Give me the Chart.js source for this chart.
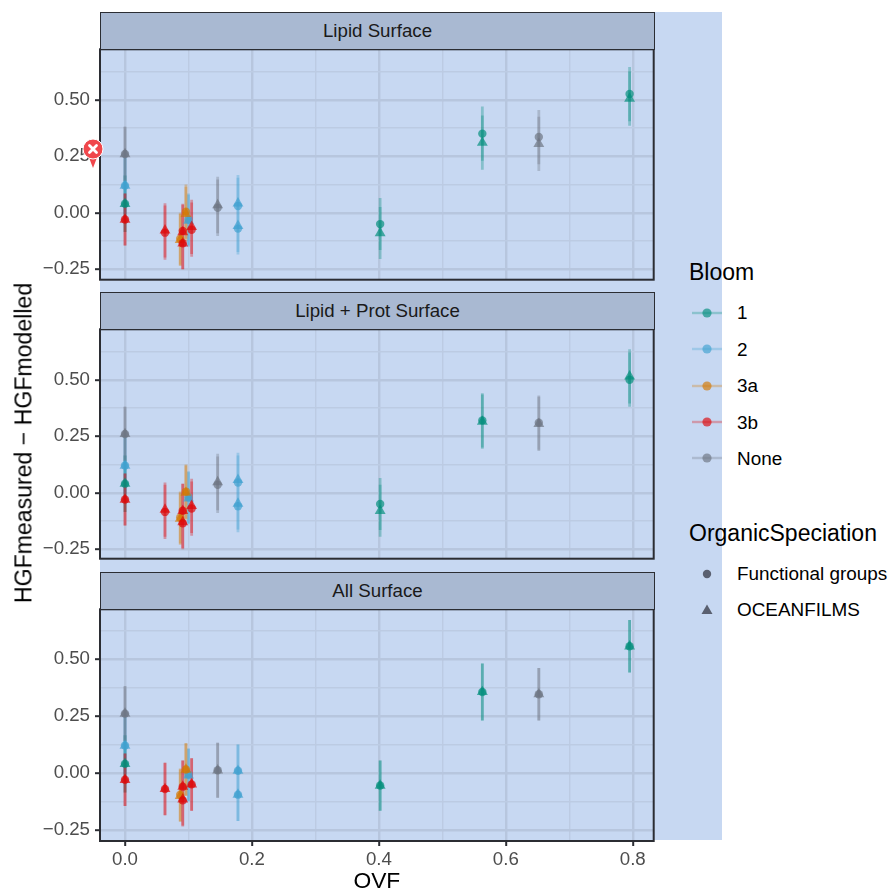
<!DOCTYPE html>
<html>
<head>
<meta charset="utf-8">
<script src="https://cdn.jsdelivr.net/npm/chart.js@4"></script>
<style>
  html, body { margin: 0; padding: 0; background: #fff; }
  body { width: 889px; height: 892px; position: relative; overflow: hidden; font-family: "Liberation Sans", Arial, sans-serif; }
  canvas { position: absolute; left: 0; }
  .abs { position: absolute; white-space: nowrap; line-height: 1; }
  #backdrop { position: absolute; left: 100px; top: 12px; width: 622px; height: 828px; background: #c7d8f2; }
  .strip { position: absolute; left: 100px; width: 553px; height: 36px; background: #a9b9d2; border: 1.5px solid #2b2d33; color: #1a1a1a; font-size: 18.7px; text-align: center; line-height: 36px; box-sizing: content-box; }
  .legendTitle { font-size: 23px; color: #000; left: 689px; }
  .legendLabel { font-size: 18.9px; color: #000; left: 737px; }
</style>
</head>
<body>
<div id="backdrop"></div>
<canvas id="lipid" width="660" height="243" style="top:43px"></canvas>
<canvas id="prot" width="660" height="242" style="top:323px"></canvas>
<canvas id="all" width="660" height="292" style="top:603px"></canvas>
<div id="overlay"></div>
<script>
// one entry per station, every station has a value for both speciations
const ovf = [0, 0, 0, 0, 0.063, 0.087, 0.091, 0.091, 0.096, 0.1, 0.105, 0.146, 0.178, 0.178, 0.402, 0.563, 0.652, 0.795];
const bloom = ['None', '2', '1', '3b', '3b', '3a', '3b', '3b', '3a', '2', '3b', 'None', '2', '2', '1', '1', 'None', '1'];

const lipidGroups = [0.26, 0.12, 0.04, -0.03, -0.088, -0.115, -0.135, -0.08, 0.005, -0.03, -0.075, 0.022, 0.03, -0.07, -0.05, 0.35, 0.335, 0.525];
const lipidFilms = [0.26, 0.12, 0.04, -0.03, -0.078, -0.12, -0.135, -0.085, -0.005, -0.035, -0.062, 0.034, 0.042, -0.058, -0.09, 0.31, 0.305, 0.505];
const lipidErr = [0.12, 0.125, 0.125, 0.115, 0.12, 0.115, 0.115, 0.12, 0.12, 0.115, 0.12, 0.125, 0.125, 0.115, 0.115, 0.12, 0.12, 0.12];

const protGroups = [0.26, 0.12, 0.04, -0.03, -0.085, -0.11, -0.135, -0.08, 0.005, -0.02, -0.07, 0.035, 0.045, -0.06, -0.05, 0.32, 0.31, 0.5];
const protFilms = [0.26, 0.12, 0.04, -0.03, -0.075, -0.115, -0.13, -0.08, 0, -0.025, -0.058, 0.047, 0.057, -0.048, -0.08, 0.315, 0.305, 0.515];
const protErr = [0.12, 0.125, 0.125, 0.115, 0.12, 0.115, 0.115, 0.12, 0.12, 0.115, 0.12, 0.125, 0.12, 0.115, 0.115, 0.12, 0.12, 0.12];

const allGroups = [0.26, 0.12, 0.04, -0.03, -0.07, -0.095, -0.12, -0.06, 0.015, -0.007, -0.05, 0.012, 0.01, -0.095, -0.055, 0.355, 0.345, 0.555];
const allFilms = [0.26, 0.12, 0.04, -0.03, -0.07, -0.1, -0.115, -0.06, 0.015, -0.01, -0.05, 0.012, 0.01, -0.095, -0.055, 0.355, 0.345, 0.555];
const allErr = [0.12, 0.125, 0.125, 0.115, 0.115, 0.115, 0.115, 0.115, 0.115, 0.115, 0.115, 0.12, 0.115, 0.115, 0.11, 0.125, 0.115, 0.115];

const bloomLevels = ['1', '2', '3a', '3b', 'None'];
const bloomRgb = { '1': '0,141,123', '2': '63,161,208', '3a': '212,120,0', '3b': '221,6,8', 'None': '108,115,128' };

const xTicks = [0, 0.1, 0.2, 0.3, 0.4, 0.5, 0.6, 0.7, 0.8];
const xLabels = { 0: '0.0', 0.2: '0.2', 0.4: '0.4', 0.6: '0.6', 0.8: '0.8' };
const yTicks = [-0.25, -0.125, 0, 0.125, 0.25, 0.375, 0.5, 0.625];
const yLabels = { '-0.25': '\u22120.25', 0: '0.00', 0.25: '0.25', 0.5: '0.50' };

const inkColor = '#4d4d4d';
const frameColor = '#2b2d33';
const gridMajor = '#b7c6de';
const gridMinor = '#bccbe3';

// dark frame around each panel
const panelFrame = {
  id: 'panelFrame',
  afterDraw(chart) {
    const a = chart.chartArea, ctx = chart.ctx;
    ctx.save();
    ctx.strokeStyle = frameColor;
    ctx.lineWidth = 2;
    ctx.strokeRect(a.left, a.top, a.right - a.left, a.bottom - a.top);
    ctx.restore();
  }
};

function errorBars(level, values, err) {
  const pts = [];
  ovf.forEach((x, i) => {
    if (bloom[i] !== level) return;
    pts.push({ x, y: values[i] - err[i] }, { x, y: values[i] + err[i] }, { x, y: null });
  });
  return {
    data: pts, showLine: true, spanGaps: false, pointRadius: 0, borderWidth: 2.8,
    borderColor: 'rgba(' + bloomRgb[level] + ',0.33)', borderCapStyle: 'butt', order: 2
  };
}

function markers(level, values, style) {
  const pts = [];
  ovf.forEach((x, i) => { if (bloom[i] === level) pts.push({ x, y: values[i] }); });
  return {
    data: pts, showLine: false, pointStyle: style, pointRadius: style === 'circle' ? 4.2 : 6.3,
    pointBorderWidth: 0, pointBackgroundColor: 'rgba(' + bloomRgb[level] + ',0.68)', order: 1
  };
}

function facet(id, groups, films, err, yRange, showX) {
  const datasets = [];
  bloomLevels.forEach(level => {
    datasets.push(errorBars(level, groups, err), errorBars(level, films, err));
    datasets.push(markers(level, groups, 'circle'), markers(level, films, 'triangle'));
  });
  datasets.reverse(); // chart.js paints the first dataset last
  new Chart(document.getElementById(id), {
    type: 'scatter',
    data: { datasets },
    plugins: [panelFrame],
    options: {
      responsive: false,
      animation: false,
      devicePixelRatio: 1,
      layout: { padding: { top: 6, right: 6, left: 0, bottom: showX ? 0 : 4 } },
      plugins: { legend: { display: false }, tooltip: { enabled: false } },
      scales: {
        x: {
          type: 'linear', min: -0.0394, max: 0.833,
          afterBuildTicks: s => { s.ticks = xTicks.map(value => ({ value })); },
          afterFit: s => { s.height = showX ? 54 : 0; s.paddingLeft = 0; s.paddingRight = 0; },
          border: { display: false },
          grid: {
            color: c => (xLabels[c.tick.value] ? gridMajor : gridMinor),
            lineWidth: c => (xLabels[c.tick.value] ? 2.4 : 1.4),
            tickColor: c => (showX && xLabels[c.tick.value] ? frameColor : 'rgba(0,0,0,0)'),
            tickLength: 5, tickWidth: 2
          },
          ticks: {
            display: showX, autoSkip: false, maxRotation: 0, color: inkColor, padding: 3,
            font: { family: 'Liberation Sans', size: 18.7 },
            callback: v => xLabels[v] || ''
          },
          title: {
            display: showX, text: 'OVF', color: '#000', padding: { top: 0, bottom: 0 },
            font: { family: 'Liberation Sans', size: 22.8 }
          }
        },
        y: {
          type: 'linear', min: yRange[0], max: yRange[1],
          afterBuildTicks: s => { s.ticks = yTicks.map(value => ({ value })); },
          afterFit: s => { s.width = 100; s.paddingTop = 0; s.paddingBottom = 0; },
          border: { display: false },
          grid: {
            color: c => (yLabels[c.tick.value] ? gridMajor : gridMinor),
            lineWidth: c => (yLabels[c.tick.value] ? 2.4 : 1.4),
            tickColor: c => (yLabels[c.tick.value] ? frameColor : 'rgba(0,0,0,0)'),
            tickLength: 5, tickWidth: 2
          },
          ticks: {
            autoSkip: false, color: inkColor, padding: 5,
            font: { family: 'Liberation Sans', size: 18.7 },
            callback: v => yLabels[v] || ''
          }
        }
      }
    }
  });
}

facet('lipid', lipidGroups, lipidFilms, lipidErr, [-0.296, 0.723], false);
facet('prot', protGroups, protFilms, protErr, [-0.292, 0.723], false);
facet('all', allGroups, allFilms, allErr, [-0.298, 0.717], true);

// strips, shared y title, legends and the marker pin sit on top as plain html
const overlay = document.getElementById('overlay');
function addHtml(html) { overlay.insertAdjacentHTML('beforeend', html); }

[['Lipid Surface', 12], ['Lipid + Prot Surface', 292], ['All Surface', 572]].forEach(s => {
  addHtml('<div class="strip" style="top:' + s[1] + 'px">' + s[0] + '</div>');
});

addHtml('<div class="abs" style="left:23.5px;top:443px;font-size:23.1px;color:#000;transform:translate(-50%,-50%) rotate(-90deg)">HGFmeasured \u2212 HGFmodelled</div>');

addHtml('<div class="abs legendTitle" style="top:261px">Bloom</div>');
const bloomKeyY = [312.5, 349, 385.5, 422, 458];
const bloomNames = ['1', '2', '3a', '3b', 'None'];
bloomNames.forEach((name, i) => {
  const y = bloomKeyY[i], rgb = bloomRgb[name];
  addHtml('<svg class="abs" style="left:692px;top:' + (y - 8) + 'px" width="30" height="16">' +
    '<line x1="0" x2="30" y1="8" y2="8" stroke="rgb(' + rgb + ')" stroke-opacity="0.3" stroke-width="2.4"/>' +
    '<circle cx="15" cy="8" r="4.6" fill="rgb(' + rgb + ')" fill-opacity="0.65"/></svg>');
  addHtml('<div class="abs legendLabel" style="top:' + (y - 8.5) + 'px">' + name + '</div>');
});

addHtml('<div class="abs legendTitle" style="top:522px">OrganicSpeciation</div>');
addHtml('<svg class="abs" style="left:692px;top:566px" width="30" height="16"><circle cx="15" cy="8" r="4.2" fill="#5a6070"/></svg>');
addHtml('<div class="abs legendLabel" style="top:565px">Functional groups</div>');
addHtml('<svg class="abs" style="left:692px;top:602px" width="30" height="16"><polygon points="15,2.5 20.5,12 9.5,12" fill="#5a6070"/></svg>');
addHtml('<div class="abs legendLabel" style="top:601px">OCEANFILMS</div>');

addHtml('<svg class="abs" style="left:80px;top:136px" width="26" height="34">' +
  '<path d="M8 19 L13 32 L18 19 Z" fill="#f0474c"/>' +
  '<circle cx="13" cy="13" r="10" fill="#f0474c" stroke="#fff" stroke-width="1"/>' +
  '<path d="M9.5 9.5 L16.5 16.5 M16.5 9.5 L9.5 16.5" stroke="#fff" stroke-width="2.8" stroke-linecap="round"/></svg>');
</script>
</body>
</html>
